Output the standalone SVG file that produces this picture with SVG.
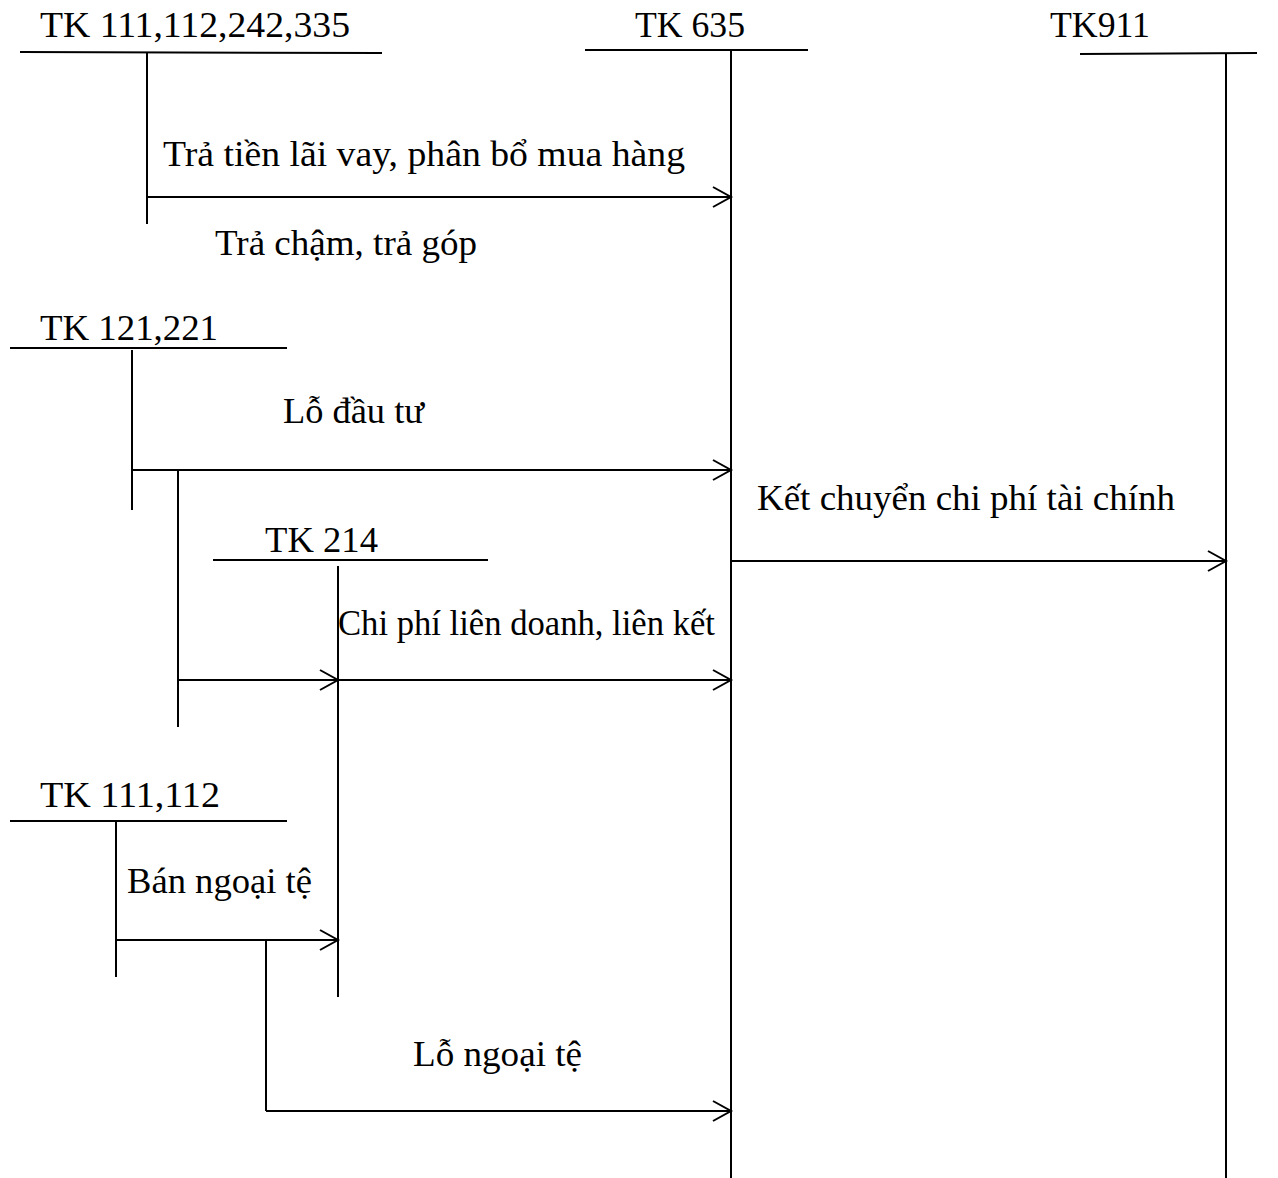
<svg xmlns="http://www.w3.org/2000/svg" width="1278" height="1178" viewBox="0 0 1278 1178">
<style>
text{font-family:"Liberation Serif","Times New Roman",serif;font-size:36px;fill:#000}
line{stroke:#000;stroke-width:2;fill:none}
</style>
<defs>
<marker id="arr" markerUnits="userSpaceOnUse" markerWidth="24" markerHeight="24" viewBox="-20 -12 24 24" refX="0" refY="0" orient="auto">
<path d="M-18,-10 L0,0 L-18,10" fill="none" stroke="#000" stroke-width="2"/>
</marker>
</defs>
<rect width="1278" height="1178" fill="#fff"/>
<g id="tk111_112_242_335">
<text x="40" y="37" textLength="310" lengthAdjust="spacingAndGlyphs">TK 111,112,242,335</text>
<line x1="20" y1="52" x2="382" y2="53"/>
<line x1="147" y1="53" x2="147" y2="224"/>
</g>
<g id="tk635">
<text x="635" y="37" textLength="110" lengthAdjust="spacingAndGlyphs">TK 635</text>
<line x1="585" y1="50" x2="808" y2="50"/>
<line x1="731" y1="50" x2="731" y2="1178"/>
</g>
<g id="tk911">
<text x="1050" y="37" textLength="100" lengthAdjust="spacingAndGlyphs">TK911</text>
<line x1="1080" y1="54" x2="1257" y2="53"/>
<line x1="1226" y1="54" x2="1226" y2="1178"/>
</g>
<g id="tk121_221">
<text x="40" y="340" textLength="178" lengthAdjust="spacingAndGlyphs">TK 121,221</text>
<line x1="10" y1="348" x2="287" y2="348"/>
<line x1="132" y1="350" x2="132" y2="510"/>
</g>
<g id="tk214">
<text x="265" y="552" textLength="113" lengthAdjust="spacingAndGlyphs">TK 214</text>
<line x1="213" y1="560" x2="488" y2="560"/>
<line x1="338" y1="566" x2="338" y2="997"/>
</g>
<g id="tk111_112">
<text x="40" y="807" textLength="180" lengthAdjust="spacingAndGlyphs">TK 111,112</text>
<line x1="10" y1="821" x2="287" y2="821"/>
<line x1="116" y1="822" x2="116" y2="977"/>
</g>
<g id="connectors">
<line x1="147" y1="197" x2="731" y2="197" marker-end="url(#arr)"/>
<line x1="132" y1="470" x2="731" y2="470" marker-end="url(#arr)"/>
<line x1="178" y1="470" x2="178" y2="727"/>
<line x1="178" y1="680" x2="338" y2="680" marker-end="url(#arr)"/>
<line x1="338" y1="680" x2="731" y2="680" marker-end="url(#arr)"/>
<line x1="731" y1="561" x2="1226" y2="561" marker-end="url(#arr)"/>
<line x1="116" y1="940" x2="338" y2="940" marker-end="url(#arr)"/>
<line x1="266" y1="940" x2="266" y2="1111"/>
<line x1="266" y1="1111" x2="731" y2="1111" marker-end="url(#arr)"/>
</g>
<g id="labels">
<text x="163" y="166" textLength="522" lengthAdjust="spacingAndGlyphs">Trả tiền lãi vay, phân bổ mua hàng</text>
<text x="215" y="255" textLength="262" lengthAdjust="spacingAndGlyphs">Trả chậm, trả góp</text>
<text x="283" y="423" textLength="141" lengthAdjust="spacingAndGlyphs">Lỗ đầu tư</text>
<text x="757" y="510" textLength="418" lengthAdjust="spacingAndGlyphs">Kết chuyển chi phí tài chính</text>
<text x="338" y="635" textLength="377" lengthAdjust="spacingAndGlyphs">Chi phí liên doanh, liên kết</text>
<text x="127" y="893" textLength="185" lengthAdjust="spacingAndGlyphs">Bán ngoại tệ</text>
<text x="413" y="1066" textLength="169" lengthAdjust="spacingAndGlyphs">Lỗ ngoại tệ</text>
</g>
</svg>
